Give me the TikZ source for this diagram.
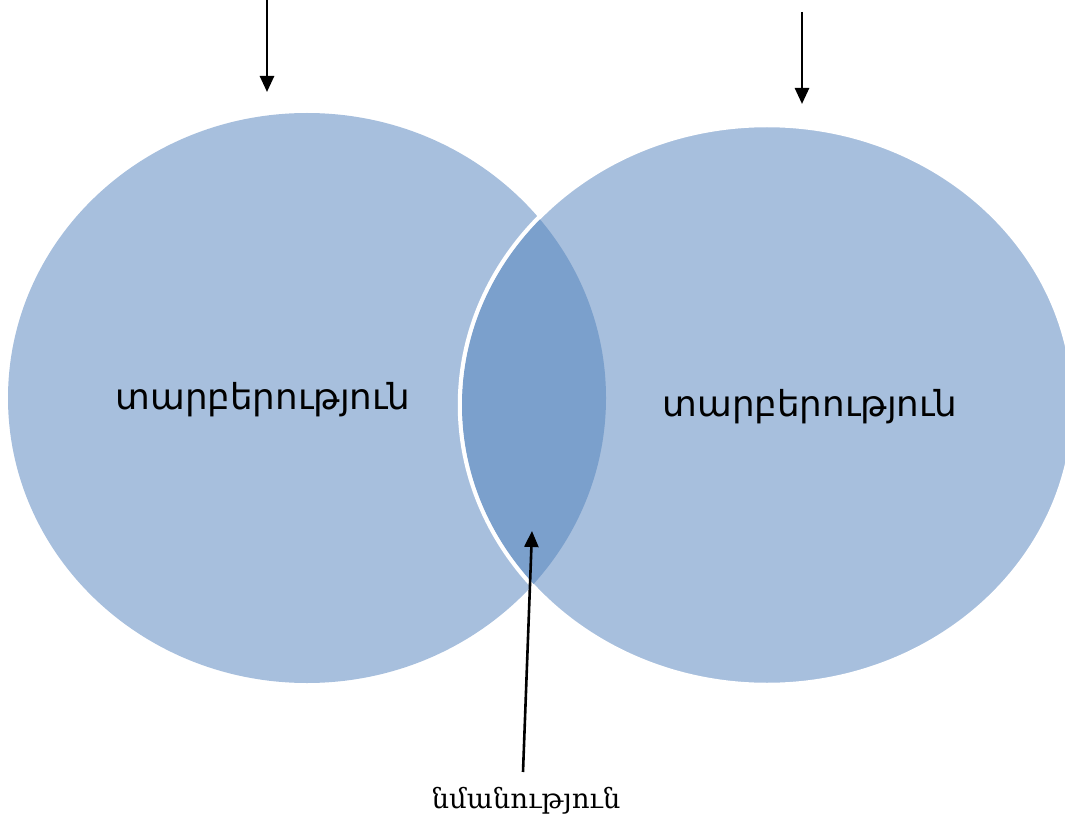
\documentclass[tikz,border=0pt]{standalone}
\usepackage{fontspec}
\setmainfont{DejaVu Serif}
\newfontfamily\armsans{DejaVu Sans}
\usetikzlibrary{arrows.meta}
\definecolor{lightblue}{HTML}{A7BFDD}
\definecolor{darkblue}{HTML}{7BA0CC}
\tikzset{
  pointer/.style={line width=2.6pt,-{Triangle[width=14pt,length=16pt]}},
  difflabel/.style={font=\armsans\fontsize{35.7}{42}\selectfont,inner sep=0pt},
  simlabel/.style={font=\fontsize{27.5}{32}\selectfont,inner sep=0pt},
}
\begin{document}
\begin{tikzpicture}[x=1pt,y=-1pt]
\useasboundingbox (0,0) rectangle (1065,818);
\clip (0,0) rectangle (1065,818);
% left set
\fill[lightblue] (307,398) ellipse [x radius=299, y radius=285];
% right set
\filldraw[fill=lightblue,draw=white,line width=4.5pt] (767,405) ellipse [x radius=307, y radius=280];
% overlap
\begin{scope}
  \clip (307,398) ellipse [x radius=299, y radius=285];
  \fill[darkblue] (767,405) ellipse [x radius=305, y radius=278];
\end{scope}
\node[difflabel] (left) at (263,400) {տարբերություն};
\node[difflabel] (right) at (810,407) {տարբերություն};
\node[simlabel] (sim) at (526,801) {նմանություն};
\coordinate (lt) at (267,-2);
\coordinate (lb) at (267,92);
\coordinate (rt) at (802,12);
\coordinate (rb) at (802,104);
\coordinate (simtop) at (523,772);
\coordinate (mid) at (532,531);
\draw[pointer] (lt) -- (lb);
\draw[pointer] (rt) -- (rb);
\draw[pointer] (simtop) -- (mid);
\end{tikzpicture}
\end{document}
